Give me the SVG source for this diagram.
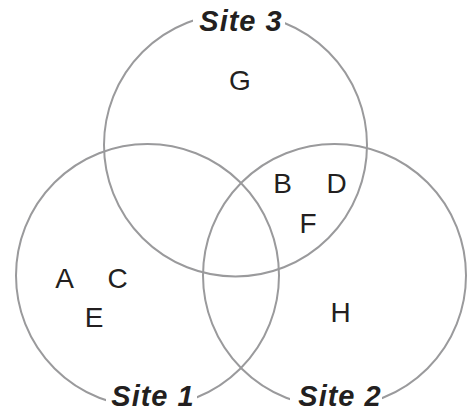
<svg xmlns="http://www.w3.org/2000/svg" width="474" height="412" viewBox="0 0 474 412">
<style>
.c{fill:none;stroke:#9a9a9c;stroke-width:2}
.item{font-family:"Liberation Sans",Arial,sans-serif;font-size:28px;fill:#231f20;text-anchor:middle}
.site{font-family:"Liberation Sans",Arial,sans-serif;font-size:29px;font-weight:bold;font-style:italic;letter-spacing:1px;fill:#231f20;text-anchor:middle}
.bg{fill:#ffffff}
</style>
<rect width="474" height="412" fill="#ffffff"/>
<g id="connectors"></g>
<g id="site3"><circle class="c" cx="235.5" cy="145" r="131.5"/></g>
<g id="site1"><circle class="c" cx="147.5" cy="275.5" r="131.5"/></g>
<g id="site2"><circle class="c" cx="334.5" cy="275.5" r="131.5"/></g>
<g id="label-site3"><rect class="bg" x="193" y="0" width="92" height="36"/><text class="site" x="241" y="31">Site 3</text></g>
<g id="label-site1"><rect class="bg" x="106" y="378" width="91" height="34"/><text class="site" x="153" y="406">Site 1</text></g>
<g id="label-site2"><rect class="bg" x="290" y="378" width="92" height="34"/><text class="site" x="340" y="406">Site 2</text></g>
<g id="items">
<text class="item" x="240" y="90">G</text>
<text class="item" x="64.5" y="288">A</text>
<text class="item" x="117.5" y="288">C</text>
<text class="item" x="94" y="327">E</text>
<text class="item" x="282.5" y="193">B</text>
<text class="item" x="336.5" y="193">D</text>
<text class="item" x="308" y="233">F</text>
<text class="item" x="340.5" y="322">H</text>
</g>
</svg>
